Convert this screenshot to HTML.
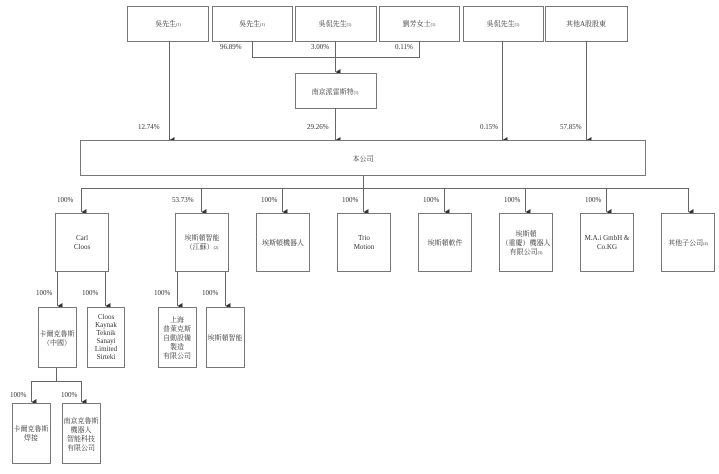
<!DOCTYPE html>
<html><head><meta charset="utf-8"><style>
html,body{margin:0;padding:0;background:#fff;}
svg{display:block;}
text{font-family:"Liberation Serif","Noto Serif CJK SC","Noto Sans CJK TC",serif;font-size:7px;fill:#333;}
.b{fill:#fff;stroke:#777;stroke-width:1;}
.l{stroke:#666;stroke-width:1;fill:none;}
</style></head><body>
<svg width="719" height="474" viewBox="0 0 719 474" xmlns="http://www.w3.org/2000/svg">
<defs><marker id="a" markerWidth="6" markerHeight="6" refX="3" refY="5" orient="auto" markerUnits="userSpaceOnUse"><path d="M0,0 L6,0 L3,5 z" fill="#333"/></marker></defs>
<!-- top boxes -->
<rect class="b" x="127.5" y="6.5" width="81" height="35"/>
<rect class="b" x="212.5" y="6.5" width="80" height="35"/>
<rect class="b" x="295.5" y="6.5" width="81" height="35"/>
<rect class="b" x="379.5" y="6.5" width="80" height="35"/>
<rect class="b" x="463.5" y="6.5" width="80" height="35"/>
<rect class="b" x="545.5" y="6.5" width="82" height="35"/>
<text x="168" y="26" text-anchor="middle">吳先生<tspan font-size="4">(1)</tspan></text>
<text x="252" y="26" text-anchor="middle">吳先生<tspan font-size="4">(1)</tspan></text>
<text x="335" y="26" text-anchor="middle">吳侃先生<tspan font-size="4">(1)</tspan></text>
<text x="419" y="26" text-anchor="middle">劉芳女士<tspan font-size="4">(1)</tspan></text>
<text x="503" y="26" text-anchor="middle">吳侃先生<tspan font-size="4">(1)</tspan></text>
<text x="586" y="26" text-anchor="middle">其他A股股東</text>
<!-- connectors to Nanjing -->
<path class="l" d="M252.5,41 V57.5 H419.5 V41"/>
<path class="l" d="M335.5,41 V72" marker-end="url(#a)"/>
<text x="220" y="49">96.89%</text>
<text x="311" y="49">3.00%</text>
<text x="395" y="49">0.11%</text>
<rect class="b" x="295.5" y="73.5" width="81" height="35"/>
<text x="335" y="94" text-anchor="middle">南京派雷斯特<tspan font-size="4">(1)</tspan></text>
<!-- to main -->
<path class="l" d="M169.5,41 V140" marker-end="url(#a)"/>
<path class="l" d="M335.5,108 V140" marker-end="url(#a)"/>
<path class="l" d="M502.5,41 V140" marker-end="url(#a)"/>
<path class="l" d="M586.5,41 V140" marker-end="url(#a)"/>
<text x="138" y="129">12.74%</text>
<text x="307" y="129">29.26%</text>
<text x="480" y="129">0.15%</text>
<text x="560" y="129">57.85%</text>
<rect class="b" x="80.5" y="140.5" width="565" height="35"/>
<text x="363" y="161" text-anchor="middle">本公司</text>
<!-- bus -->
<path class="l" d="M363.5,176 V188.5"/>
<path class="l" d="M81.5,188.5 H688.5"/>
<g>
<path class="l" d="M81.5,188 V212" marker-end="url(#a)"/>
<path class="l" d="M201.5,188 V212" marker-end="url(#a)"/>
<path class="l" d="M282.5,188 V212" marker-end="url(#a)"/>
<path class="l" d="M363.5,188 V212" marker-end="url(#a)"/>
<path class="l" d="M444.5,188 V212" marker-end="url(#a)"/>
<path class="l" d="M525.5,188 V212" marker-end="url(#a)"/>
<path class="l" d="M606.5,188 V212" marker-end="url(#a)"/>
<path class="l" d="M688.5,188 V212" marker-end="url(#a)"/>
</g>
<text x="57" y="202">100%</text>
<text x="172" y="202">53.73%</text>
<text x="261" y="202">100%</text>
<text x="342" y="202">100%</text>
<text x="423" y="202">100%</text>
<text x="504" y="202">100%</text>
<text x="585" y="202">100%</text>
<rect class="b" x="55.5" y="213.5" width="53" height="58"/>
<rect class="b" x="175.5" y="213.5" width="53" height="58"/>
<rect class="b" x="256.5" y="213.5" width="53" height="58"/>
<rect class="b" x="337.5" y="213.5" width="53" height="58"/>
<rect class="b" x="418.5" y="213.5" width="53" height="58"/>
<rect class="b" x="499.5" y="213.5" width="53" height="58"/>
<rect class="b" x="580.5" y="213.5" width="53" height="58"/>
<rect class="b" x="661.5" y="213.5" width="53" height="58"/>
<text x="82" y="240" text-anchor="middle">Carl</text>
<text x="82" y="249" text-anchor="middle">Cloos</text>
<text x="202" y="240" text-anchor="middle">埃斯頓智能</text>
<text x="202" y="249" text-anchor="middle">（江蘇）<tspan font-size="4">(2)</tspan></text>
<text x="283" y="245" text-anchor="middle">埃斯頓機器人</text>
<text x="364" y="240" text-anchor="middle">Trio</text>
<text x="364" y="249" text-anchor="middle">Motion</text>
<text x="445" y="245" text-anchor="middle">埃斯頓軟件</text>
<text x="526" y="236" text-anchor="middle">埃斯頓</text>
<text x="526" y="245" text-anchor="middle">（重慶）機器人</text>
<text x="526" y="254" text-anchor="middle">有限公司<tspan font-size="4">(3)</tspan></text>
<text x="607" y="240" text-anchor="middle">M.A.i GmbH &amp;</text>
<text x="607" y="249" text-anchor="middle">Co.KG</text>
<text x="688" y="245" text-anchor="middle">其他子公司<tspan font-size="4">(4)</tspan></text>
<!-- Carl Cloos children -->
<path class="l" d="M57.5,272 V306" marker-end="url(#a)"/>
<path class="l" d="M105.5,272 V306" marker-end="url(#a)"/>
<text x="36" y="295">100%</text>
<text x="82" y="295">100%</text>
<rect class="b" x="38.5" y="307.5" width="38" height="60"/>
<rect class="b" x="87.5" y="307.5" width="37" height="60"/>
<text x="57" y="336" text-anchor="middle">卡爾克魯斯</text>
<text x="57" y="345" text-anchor="middle">（中國）</text>
<text x="106" y="319" text-anchor="middle">Cloos</text>
<text x="106" y="327" text-anchor="middle">Kaynak</text>
<text x="106" y="335" text-anchor="middle">Teknik</text>
<text x="106" y="343" text-anchor="middle">Sanayi</text>
<text x="106" y="351" text-anchor="middle">Limited</text>
<text x="106" y="359" text-anchor="middle">Sirteki</text>
<!-- 埃斯頓智能 children -->
<path class="l" d="M177.5,272 V306" marker-end="url(#a)"/>
<path class="l" d="M225.5,272 V306" marker-end="url(#a)"/>
<text x="154" y="295">100%</text>
<text x="202" y="295">100%</text>
<rect class="b" x="158.5" y="307.5" width="38" height="60"/>
<rect class="b" x="206.5" y="307.5" width="38" height="60"/>
<text x="177" y="322" text-anchor="middle">上海</text>
<text x="177" y="331" text-anchor="middle">普萊克斯</text>
<text x="177" y="340" text-anchor="middle">自動設備</text>
<text x="177" y="349" text-anchor="middle">製造</text>
<text x="177" y="358" text-anchor="middle">有限公司</text>
<text x="225" y="340" text-anchor="middle">埃斯頓智能</text>
<!-- bottom -->
<path class="l" d="M56.5,368 V381.5 H31.5 V402"/>
<path class="l" d="M56.5,381.5 H81.5 V402"/>
<path class="l" d="M31.5,390 V402" marker-end="url(#a)"/>
<path class="l" d="M81.5,390 V402" marker-end="url(#a)"/>
<text x="10" y="397">100%</text>
<text x="61" y="397">100%</text>
<rect class="b" x="12.5" y="403.5" width="38" height="60"/>
<rect class="b" x="62.5" y="403.5" width="38" height="60"/>
<text x="31" y="431" text-anchor="middle">卡爾克魯斯</text>
<text x="31" y="440" text-anchor="middle">焊接</text>
<text x="81" y="423" text-anchor="middle">南京克魯斯</text>
<text x="81" y="432" text-anchor="middle">機器人</text>
<text x="81" y="441" text-anchor="middle">智能科技</text>
<text x="81" y="450" text-anchor="middle">有限公司</text>
</svg>
</body></html>
